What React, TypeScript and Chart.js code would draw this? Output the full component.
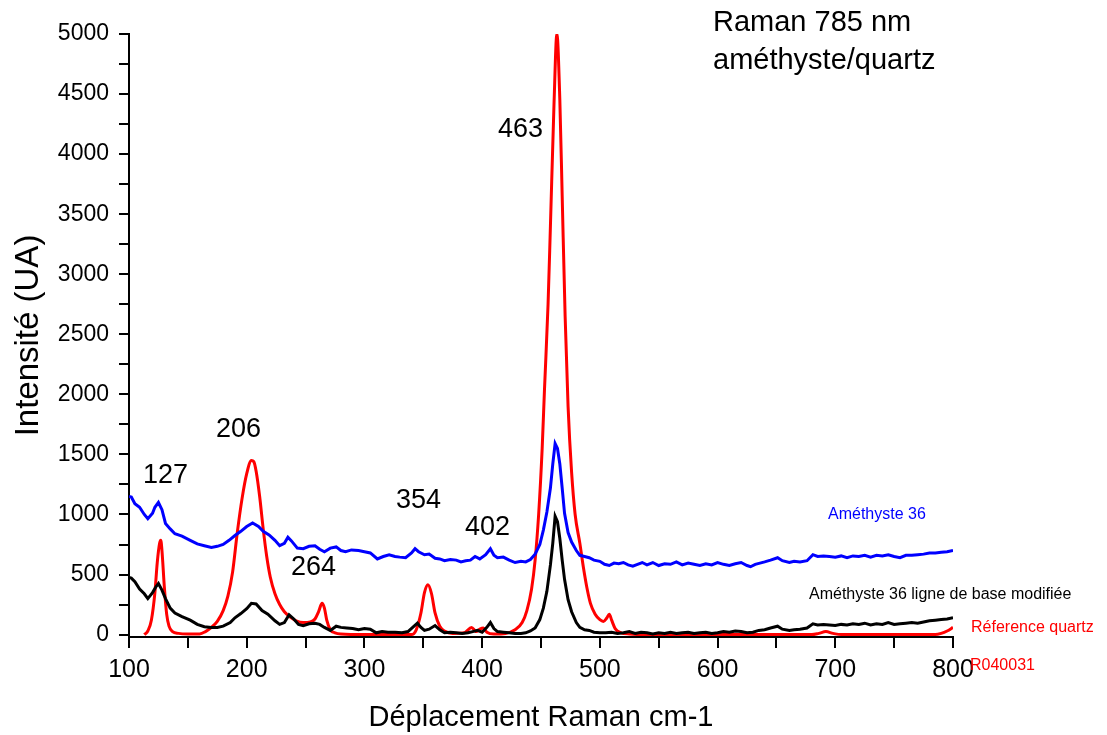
import React, { useEffect, useRef } from 'react';
import { Chart, registerables } from 'chart.js';

Chart.register(...registerables);

// Améthyste 36 (raw spectrum) — [Raman shift cm-1, intensity]
const amethystePoints: [number, number][] = [
  [100, 1150], [102, 1145], [105, 1090], [109, 1060], [113, 1000], [116, 965], [120, 1010], [122, 1060],
  [125, 1100], [128, 1040], [131, 925], [135, 880], [139, 840], [145, 820], [152, 785], [158, 755],
  [164, 740], [170, 725], [175, 735], [180, 750], [185, 785], [190, 825], [195, 860], [200, 900],
  [205, 930], [210, 900], [214, 860], [219, 830], [224, 785], [228, 740], [232, 760], [235, 810],
  [238, 780], [243, 720], [248, 715], [253, 735], [258, 740], [262, 710], [266, 690], [271, 720],
  [276, 730], [280, 700], [284, 690], [289, 705], [295, 700], [300, 690], [305, 680], [311, 630],
  [316, 650], [321, 665], [326, 650], [330, 645], [335, 640], [340, 680], [343, 715], [346, 690],
  [351, 665], [355, 670], [360, 635], [364, 630], [368, 615], [373, 625], [378, 620], [382, 605],
  [386, 615], [390, 620], [394, 650], [398, 630], [403, 665], [407, 715], [410, 660], [413, 640],
  [418, 645], [423, 620], [428, 600], [433, 610], [437, 605], [441, 625], [445, 670], [449, 750],
  [452, 870], [455, 1020], [458, 1220], [460, 1420], [462, 1590], [464, 1550], [466, 1420], [468, 1220],
  [470, 1010], [473, 850], [476, 770], [480, 700], [483, 660], [487, 650], [491, 640], [495, 620],
  [500, 610], [504, 585], [508, 575], [512, 595], [516, 590], [520, 600], [524, 580], [528, 570],
  [532, 585], [536, 600], [540, 580], [545, 600], [550, 575], [555, 590], [560, 585], [565, 605],
  [570, 580], [575, 595], [580, 585], [585, 575], [590, 590], [595, 580], [600, 600], [605, 585],
  [610, 575], [615, 590], [620, 600], [625, 575], [628, 565], [632, 585], [636, 595], [640, 605],
  [645, 620], [651, 640], [655, 615], [661, 600], [665, 610], [670, 605], [676, 615], [681, 665],
  [685, 650], [690, 655], [695, 650], [700, 645], [705, 655], [710, 640], [715, 655], [720, 650],
  [725, 660], [730, 645], [735, 660], [740, 655], [745, 665], [750, 650], [755, 640], [760, 660],
  [765, 660], [770, 665], [775, 670], [780, 680], [785, 680], [790, 685], [795, 690], [800, 700],
];

// Améthyste 36, modified baseline
const baselinePoints: [number, number][] = [
  [100, 475], [102, 470], [105, 440], [109, 380], [113, 340], [116, 300], [120, 350], [123, 400],
  [125, 425], [128, 370], [131, 300], [135, 220], [139, 180], [145, 150], [152, 120], [158, 85],
  [164, 65], [170, 60], [175, 60], [180, 70], [186, 100], [190, 140], [195, 175], [200, 215],
  [204, 260], [208, 255], [213, 200], [218, 170], [224, 115], [228, 85], [232, 100], [236, 165],
  [240, 130], [244, 85], [248, 75], [253, 90], [258, 95], [262, 85], [266, 60], [271, 35],
  [276, 70], [280, 60], [285, 55], [290, 50], [295, 40], [300, 50], [305, 45], [310, 15],
  [315, 25], [320, 20], [326, 20], [332, 15], [337, 25], [341, 60], [345, 95], [348, 60],
  [351, 35], [355, 45], [360, 75], [364, 40], [368, 15], [373, 20], [378, 15], [383, 10],
  [388, 15], [392, 25], [396, 35], [400, 20], [404, 60], [407, 100], [410, 50], [413, 25],
  [418, 20], [423, 15], [428, 10], [433, 10], [437, 15], [441, 30], [445, 55], [449, 125],
  [452, 220], [455, 360], [458, 580], [460, 760], [462, 985], [464, 940], [466, 800], [468, 620],
  [470, 460], [473, 290], [476, 190], [480, 100], [483, 60], [487, 40], [491, 35], [495, 20],
  [500, 15], [505, 15], [510, 20], [515, 10], [520, 15], [525, 25], [530, 10], [535, 20],
  [540, 15], [545, 5], [550, 15], [555, 10], [560, 20], [565, 10], [570, 15], [575, 20],
  [580, 10], [585, 15], [590, 20], [595, 10], [600, 15], [605, 25], [610, 20], [615, 30],
  [620, 25], [625, 15], [630, 20], [635, 35], [640, 40], [645, 55], [651, 70], [655, 45],
  [661, 35], [665, 40], [670, 45], [676, 55], [681, 90], [685, 80], [690, 85], [695, 80],
  [700, 75], [705, 85], [710, 80], [715, 90], [720, 85], [725, 95], [730, 80], [735, 90],
  [740, 85], [745, 100], [750, 85], [755, 90], [760, 95], [765, 100], [770, 95], [775, 105],
  [780, 115], [785, 120], [790, 125], [795, 130], [800, 140],
];

// Référence quartz R040031
const quartzPoints: [number, number][] = [
  [113, 0], [116, 30], [119, 120], [122, 350], [124, 600], [126, 760], [127, 785], [128, 700],
  [130, 400], [132, 170], [134, 70], [137, 25], [142, 10], [150, 5], [160, 5], [165, 25],
  [170, 60], [175, 110], [180, 200], [184, 320], [188, 520], [192, 850], [196, 1130], [200, 1340],
  [204, 1450], [206, 1440], [208, 1360], [211, 1150], [214, 880], [217, 650], [220, 480], [224, 340],
  [228, 250], [232, 190], [237, 145], [242, 115], [248, 100], [254, 105], [258, 130], [261, 190],
  [264, 260], [266, 220], [268, 120], [271, 40], [275, 15], [280, 5], [300, 0], [340, 0],
  [344, 40], [348, 180], [351, 350], [354, 415], [357, 340], [360, 180], [364, 70], [368, 30],
  [375, 10], [385, 15], [391, 60], [395, 25], [398, 45], [401, 55], [404, 20], [410, 5],
  [420, 10], [428, 40], [434, 100], [438, 200], [442, 380], [445, 620], [448, 1000], [451, 1550],
  [453, 2050], [456, 2750], [458, 3400], [461, 4400], [463.5, 5000], [466, 4450], [468, 3650], [470.5, 2650],
  [473, 1900], [476, 1350], [479, 1000], [483, 760], [486, 560], [489, 390], [492, 260], [496, 170],
  [500, 125], [503, 110], [506, 140], [508, 170], [510, 120], [513, 50], [518, 15], [525, 5],
  [540, 0], [600, 0], [680, 0], [686, 10], [692, 25], [698, 10], [705, 0], [770, 0],
  [785, 0], [790, 10], [795, 30], [800, 60],
];

const xTickValues = [100, 150, 200, 250, 300, 350, 400, 450, 500, 550, 600, 650, 700, 750, 800];
const yTickValues = [
  0, 250, 500, 750, 1000, 1250, 1500, 1750, 2000, 2250, 2500, 2750, 3000, 3250, 3500, 3750,
  4000, 4250, 4500, 4750, 5000,
];

const FONT = '"Liberation Sans", Arial, sans-serif';

type Note = { text: string; x: number; y: number; size: number; color: string };
const notes: Note[] = [
  { text: 'Raman 785 nm', x: 713, y: 23, size: 29, color: '#000' },
  { text: 'améthyste/quartz', x: 713, y: 61, size: 29, color: '#000' },
  { text: '463', x: 498, y: 130, size: 27, color: '#000' },
  { text: '206', x: 216, y: 430, size: 27, color: '#000' },
  { text: '127', x: 143, y: 476, size: 27, color: '#000' },
  { text: '264', x: 291, y: 568, size: 27, color: '#000' },
  { text: '354', x: 396, y: 501, size: 27, color: '#000' },
  { text: '402', x: 465, y: 528, size: 27, color: '#000' },
  { text: 'Améthyste 36', x: 828, y: 515, size: 16, color: '#0000ff' },
  { text: 'Améthyste 36 ligne de base modifiée', x: 809, y: 595, size: 16, color: '#000' },
  { text: 'Réference quartz', x: 971, y: 628, size: 16, color: '#ff0000' },
  { text: 'R040031', x: 970, y: 666, size: 16, color: '#ff0000' },
];

const notesPlugin = {
  id: 'notes',
  afterDraw(chart: any) {
    const ctx = chart.ctx;
    ctx.save();
    ctx.textAlign = 'left';
    ctx.textBaseline = 'middle';
    for (const n of notes) {
      ctx.font = `${n.size}px ${FONT}`;
      ctx.fillStyle = n.color;
      ctx.fillText(n.text, n.x, n.y);
    }
    ctx.restore();
  },
};

const toXY = (pts: [number, number][]) => pts.map(([x, y]) => ({ x, y }));

export default function App() {
  const ref = useRef<HTMLCanvasElement | null>(null);

  useEffect(() => {
    if (!ref.current) return;
    const chart = new Chart(ref.current, {
      type: 'line',
      data: {
        datasets: [
          {
            label: 'Améthyste 36',
            data: toXY(amethystePoints),
            borderColor: '#0000ff',
            borderWidth: 3,
            pointRadius: 0,
            tension: 0,
          },
          {
            label: 'Améthyste 36 ligne de base modifiée',
            data: toXY(baselinePoints),
            borderColor: '#000000',
            borderWidth: 3,
            pointRadius: 0,
            tension: 0,
          },
          {
            label: 'Réference quartz R040031',
            data: toXY(quartzPoints),
            borderColor: '#ff0000',
            borderWidth: 3,
            pointRadius: 0,
            cubicInterpolationMode: 'monotone',
          },
        ],
      },
      options: {
        responsive: false,
        animation: false,
        devicePixelRatio: 1,
        layout: { padding: { top: 34, right: 154, left: 0, bottom: 0 } },
        plugins: { legend: { display: false }, tooltip: { enabled: false } },
        scales: {
          x: {
            type: 'linear',
            position: 'bottom',
            min: 100,
            max: 800,
            afterBuildTicks: (s: any) => {
              s.ticks = xTickValues.map((v) => ({ value: v }));
            },
            afterFit: (s: any) => {
              s.height = 98;
            },
            ticks: {
              autoSkip: false,
              maxRotation: 0,
              color: '#000',
              padding: 7,
              font: { family: FONT, size: 25 },
              callback: (v: any) => (Number(v) % 100 === 0 ? String(v) : ''),
            },
            grid: {
              display: true,
              drawOnChartArea: false,
              drawTicks: true,
              tickLength: 11,
              color: '#000',
              lineWidth: 2,
            },
            border: { display: true, color: '#000', width: 2 },
            title: {
              display: true,
              text: 'Déplacement Raman cm-1',
              color: '#000',
              font: { family: FONT, size: 29 },
              padding: { top: 0, bottom: 0 },
            },
          },
          y: {
            type: 'linear',
            min: -20,
            max: 5000,
            afterBuildTicks: (s: any) => {
              s.ticks = yTickValues.map((v) => ({ value: v }));
            },
            afterFit: (s: any) => {
              s.width = 129;
            },
            ticks: {
              autoSkip: false,
              color: '#000',
              padding: 10,
              font: { family: FONT, size: 23 },
              callback: (v: any) => (Number(v) % 500 === 0 ? String(v) : ''),
            },
            grid: {
              display: true,
              drawOnChartArea: false,
              drawTicks: true,
              tickLength: 10,
              color: '#000',
              lineWidth: 2,
            },
            border: { display: true, color: '#000', width: 2 },
            title: {
              display: true,
              text: 'Intensité (UA)',
              color: '#000',
              font: { family: FONT, size: 33 },
              padding: { top: 9, bottom: 0 },
            },
          },
        },
      },
      plugins: [notesPlugin],
    } as any);
    return () => chart.destroy();
  }, []);

  return (
    <div style={{ position: 'absolute', left: 0, top: 0, width: 1107, height: 735, background: '#fff' }}>
      <canvas ref={ref} width={1107} height={735} />
    </div>
  );
}
